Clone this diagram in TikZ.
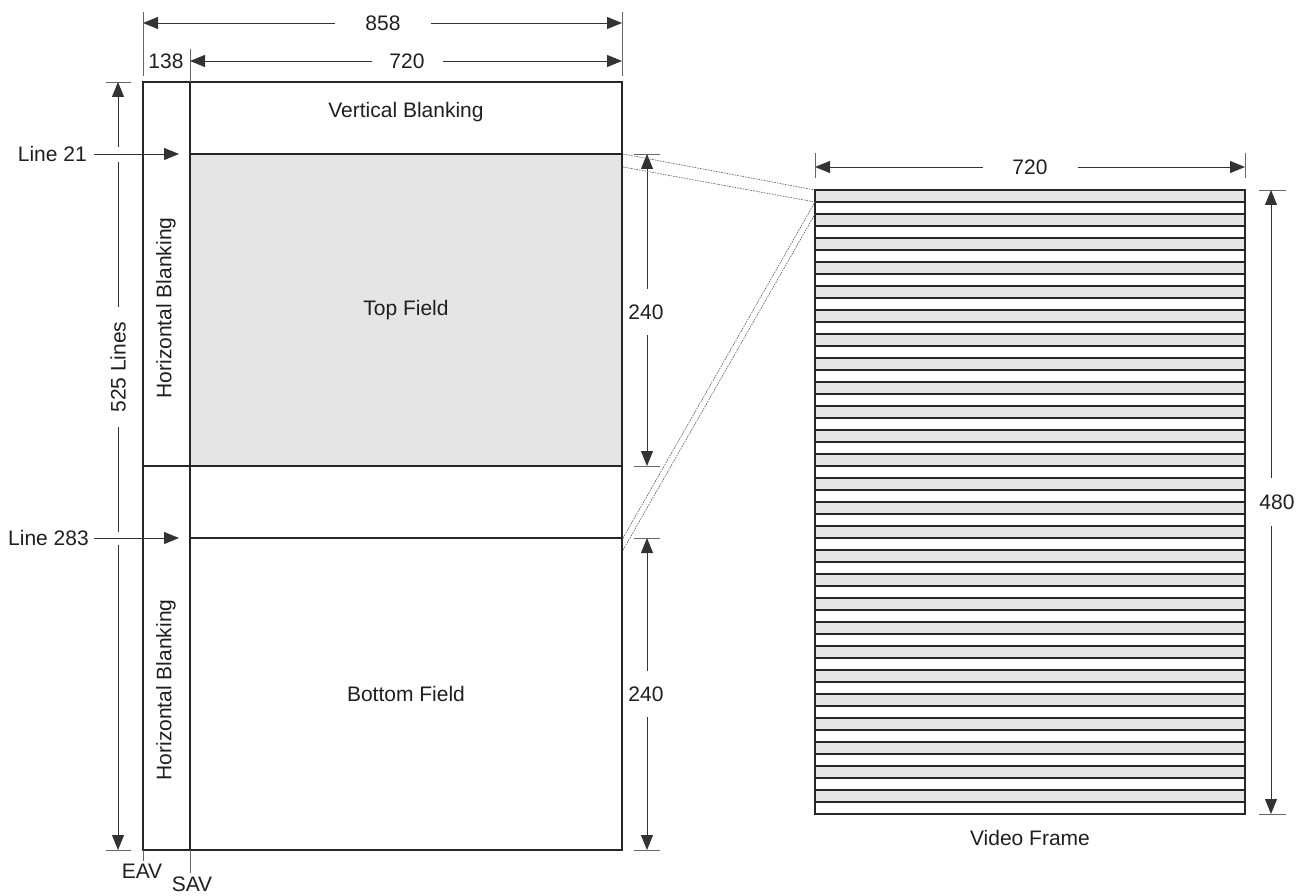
\documentclass[tikz,border=0pt]{standalone}
\usepackage{fontspec}
\setmainfont{Liberation Sans}
\usetikzlibrary{arrows.meta}
\begin{document}
\begin{tikzpicture}[x=1pt,y=-1pt,
  every node/.style={font=\fontsize{21}{24}\selectfont, inner sep=0pt, text=black!88},
  frame/.style={line width=2.1pt, draw=black!85},
  fieldline/.style={line width=2.6pt, draw=black!85},
  dim/.style={line width=0.9pt, draw=black!80},
  arr/.style={dim, -{Triangle[length=15pt,width=12pt]}},
  ext/.style={line width=0.8pt, draw=black!60},
  conn/.style={line width=0.6pt, draw=black!65, dash pattern=on 1.6pt off 1.1pt},
  stripebox/.style={draw=black!85, line width=1.2pt},
]
\useasboundingbox (0,0) rectangle (1303,896);

% ---------- left frame ----------
\fill[black!10] (190,154) rectangle (622,466);
\draw[frame] (143,82) rectangle (622,850);
\draw[frame] (190,82) -- (190,850);
\draw[frame] (143,466) -- (622,466);
\coordinate (l21s) at (190,154);
\coordinate (l21e) at (622,154);
\coordinate (l283s) at (190,538);
\coordinate (l283e) at (622,538);
\draw[fieldline] (l21s) -- (l21e);
\draw[fieldline] (l283s) -- (l283e);

\node (vb) at (406,112) {Vertical Blanking};
\node (tf) at (406,310) {Top Field};
\node (bf) at (406,694) {Bottom Field};
\node[rotate=90] (hb1) at (166,308) {Horizontal Blanking};
\node[rotate=90] (hb2) at (166,690) {Horizontal Blanking};

% ---------- top dimensions ----------
\draw[ext] (143,12) -- (143,76);
\draw[ext] (622,12) -- (622,76);
\draw[ext] (190,49) -- (190,82);
\node (d858) at (383,23) {858};
\coordinate (d858a) at (335,23);
\coordinate (d858b) at (431,23);
\coordinate (d858l) at (143,23);
\coordinate (d858r) at (622,23);
\draw[arr] (d858a) -- (d858l);
\draw[arr] (d858b) -- (d858r);
\node (d138) at (166,61) {138};
\node (d720a) at (407,61) {720};
\coordinate (d720p) at (372,61);
\coordinate (d720q) at (443,61);
\coordinate (d720l) at (190,61);
\coordinate (d720r) at (622,61);
\draw[arr] (d720p) -- (d720l);
\draw[arr] (d720q) -- (d720r);

% ---------- 525 lines ----------
\draw[ext] (106,82) -- (131,82);
\draw[ext] (106,850) -- (131,850);
\node[rotate=90] (d525) at (118,367) {525 Lines};
\coordinate (v1) at (118,147);
\coordinate (v2) at (118,162);
\coordinate (v3) at (118,307);
\coordinate (v4) at (118,427);
\coordinate (v5) at (118,532);
\coordinate (v6) at (118,545);
\coordinate (vtop) at (118,82);
\coordinate (vbot) at (118,850);
\draw[arr] (v1) -- (vtop);
\draw[dim] (v2) -- (v3);
\draw[dim] (v4) -- (v5);
\draw[arr] (v6) -- (vbot);

% ---------- line markers ----------
\node[anchor=east] (line21) at (87,154) {Line 21};
\node[anchor=east] (line283) at (89,538) {Line 283};
\coordinate (t21) at (179,154);
\coordinate (t283) at (179,538);
\draw[arr, shorten <=7pt] (line21.east) -- (t21);
\draw[arr, shorten <=5pt] (line283.east) -- (t283);

% ---------- 240 dims ----------
\draw[ext] (634,154) -- (660,154);
\draw[ext] (634,466) -- (660,466);
\draw[ext] (634,538) -- (660,538);
\draw[ext] (634,850) -- (660,850);
\node (d240a) at (646,312) {240};
\node (d240b) at (646,694) {240};
\coordinate (a1) at (647,289);
\coordinate (a2) at (647,335);
\coordinate (a1t) at (647,154);
\coordinate (a2b) at (647,466);
\draw[arr] (a1) -- (a1t);
\draw[arr] (a2) -- (a2b);
\coordinate (b1) at (647,671);
\coordinate (b2) at (647,717);
\coordinate (b1t) at (647,538);
\coordinate (b2b) at (647,850);
\draw[arr] (b1) -- (b1t);
\draw[arr] (b2) -- (b2b);

% ---------- EAV / SAV ----------
\coordinate (eavtop) at (143,850);
\coordinate (savtop) at (190,850);
\node (eav) at (142,871) {EAV};
\node (sav) at (192,884) {SAV};
\draw[ext] (eavtop) -- (143,861);
\draw[ext] (savtop) -- (190,873);

% ---------- video frame ----------
\foreach \i in {0,...,51} {
  \pgfmathsetmacro{\ya}{190+\i*12}
  \pgfmathsetmacro{\yb}{190+(\i+1)*12}
  \pgfmathtruncatemacro{\odd}{mod(\i,2)}
  \ifnum\odd=0
    \fill[black!10] (815,\ya) rectangle (1245,\yb);
  \fi
  \draw[stripebox] (815,\ya) rectangle (1245,\yb);
}
\coordinate (vf1) at (815,190);
\coordinate (vf2) at (815,202);
\coordinate (vf3) at (815,214);
\node (vframe) at (1030,838) {Video Frame};

% 720 on the right
\draw[ext] (815,153) -- (815,178);
\draw[ext] (1245,153) -- (1245,178);
\node (d720b) at (1030,167) {720};
\coordinate (r1) at (983,167);
\coordinate (r2) at (1078,167);
\coordinate (r1l) at (815,167);
\coordinate (r2r) at (1245,167);
\draw[arr] (r1) -- (r1l);
\draw[arr] (r2) -- (r2r);

% 480
\draw[ext] (1259,190) -- (1286,190);
\draw[ext] (1259,814) -- (1286,814);
\node (d480) at (1277,502) {480};
\coordinate (s1) at (1271,478);
\coordinate (s2) at (1271,526);
\coordinate (s1t) at (1271,190);
\coordinate (s2b) at (1271,814);
\draw[arr] (s1) -- (s1t);
\draw[arr] (s2) -- (s2b);

% ---------- connectors ----------
\coordinate (c1) at (623,154);
\coordinate (c2) at (623,167);
\coordinate (c3) at (623,538);
\coordinate (c4) at (623,550);
\draw[conn] (c1) -- (vf1);
\draw[conn] (c2) -- (vf2);
\draw[conn] (c3) -- (vf2);
\draw[conn] (c4) -- (vf3);
\end{tikzpicture}
\end{document}
